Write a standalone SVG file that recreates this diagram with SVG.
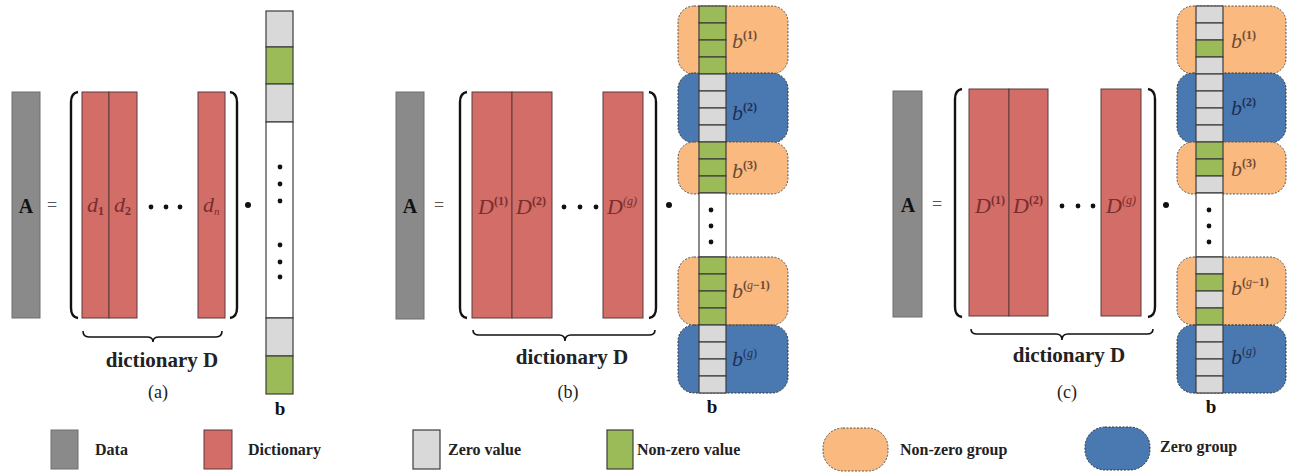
<svg xmlns="http://www.w3.org/2000/svg" width="1291" height="474" viewBox="0 0 1291 474">
<style>
.bg{fill:#ffffff}
.data{fill:#8a8a8a;stroke:#6e6e6e;stroke-width:1}
.dict{fill:#d26d68;stroke:#5a3a3a;stroke-width:1}
.zero{fill:#d9d9d9;stroke:#3c3c3c;stroke-width:1.2}
.nz{fill:#9bbb59;stroke:#3c3c3c;stroke-width:1.2}
.wh{fill:#ffffff;stroke:#3c3c3c;stroke-width:1.2}
.og{fill:#f9b97f;stroke:#555;stroke-width:1;stroke-dasharray:2 1.5}
.bg2{fill:#4a79b2;stroke:#333;stroke-width:1;stroke-dasharray:2 1.5}
.brk{fill:none;stroke:#111;stroke-width:2.4}
.brace{fill:none;stroke:#111;stroke-width:1.6}
.dot{fill:#111}
.t{font-family:"Liberation Serif","Times New Roman",serif;fill:#111}
.bold{font-weight:bold}
.A{font-family:"Liberation Serif",serif;font-weight:bold;font-size:20px;fill:#111}
.eq{font-family:"Liberation Serif",serif;font-size:18px;fill:#555}
.dl{font-family:"Liberation Serif",serif;font-style:italic;font-size:22px;fill:#7a2e2e}
.sup{font-style:normal;font-weight:bold;font-size:12px}
.bl{font-family:"Liberation Serif",serif;font-style:italic;font-size:22px}
.blo{fill:#6e4a35}
.blb{fill:#1e2f55}
.dic{font-family:"Liberation Serif",serif;font-weight:bold;font-size:21px;fill:#222}
.cap{font-family:"Liberation Serif",serif;font-size:18px;fill:#222}
.lg{font-family:"Liberation Serif",serif;font-weight:bold;font-size:16px;fill:#222}
</style>
<rect class="bg" x="0" y="0" width="1291" height="474"/>

<!-- ============ Panel (a) ============ -->
<g id="panel-a">
  <g id="a-data"><rect class="data" x="12" y="92" width="28" height="226"/><text class="A" x="26" y="213" text-anchor="middle">A</text></g>
  <text class="eq" x="52" y="211" text-anchor="middle">=</text>
  <g id="a-dict">
    <path class="brk" d="M78,92 Q71,93 71,102 L71,308 Q71,317 78,318"/>
    <rect class="dict" x="82" y="92" width="27" height="226"/>
    <rect class="dict" x="109" y="92" width="28" height="226"/>
    <rect class="dict" x="198" y="92" width="27" height="226"/>
    <text class="dl" x="87" y="212">d<tspan class="sup" dy="3" font-size="11">1</tspan></text>
    <text class="dl" x="114" y="212">d<tspan class="sup" dy="3" font-size="11">2</tspan></text>
    <text class="dl" x="203" y="212">d<tspan dy="3" font-size="11">n</tspan></text>
    <circle class="dot" cx="151" cy="207" r="2.4"/><circle class="dot" cx="166" cy="207" r="2.4"/><circle class="dot" cx="180" cy="207" r="2.4"/>
    <path class="brk" d="M230,92 Q237,93 237,102 L237,308 Q237,317 230,318"/>
    <path class="brace" d="M83,331 Q83,337 89,337 L147,337 Q153,337 153,342 Q153,337 159,337 L216,337 Q222,337 222,331"/>
    <text class="dic" x="162" y="367" text-anchor="middle">dictionary D</text>
    <text class="cap" x="158" y="398" text-anchor="middle">(a)</text>
  </g>
  <circle class="dot" cx="248" cy="205" r="3"/>
  <g id="a-b">
    <rect class="zero" x="266" y="11" width="27" height="36"/>
    <rect class="nz" x="266" y="47" width="27" height="37"/>
    <rect class="zero" x="266" y="84" width="27" height="38"/>
    <rect class="wh" x="266" y="122" width="27" height="196"/>
    <rect class="zero" x="266" y="318" width="27" height="38"/>
    <rect class="nz" x="266" y="356" width="27" height="38"/>
    <circle class="dot" cx="280" cy="167" r="2.4"/><circle class="dot" cx="280" cy="184" r="2.4"/><circle class="dot" cx="280" cy="201" r="2.4"/>
    <circle class="dot" cx="280" cy="245" r="2.4"/><circle class="dot" cx="280" cy="262" r="2.4"/><circle class="dot" cx="280" cy="277" r="2.4"/>
    <text class="t bold" x="280" y="415" font-size="19" text-anchor="middle">b</text>
  </g>
</g>

<!-- ============ Panel (b) ============ -->
<g id="panel-b">
  <g id="b-data"><rect class="data" x="396" y="92" width="28" height="227"/><text class="A" x="410" y="213" text-anchor="middle">A</text></g>
  <text class="eq" x="439" y="211" text-anchor="middle">=</text>
  <g id="b-dict">
    <path class="brk" d="M467,92 Q460,93 460,102 L460,308 Q460,317 467,318"/>
    <rect class="dict" x="472" y="92" width="40" height="226"/>
    <rect class="dict" x="512" y="92" width="40" height="226"/>
    <rect class="dict" x="603" y="92" width="40" height="226"/>
    <text class="dl" x="478" y="214">D<tspan class="sup" dy="-9">(1)</tspan></text>
    <text class="dl" x="516" y="214">D<tspan class="sup" dy="-9">(2)</tspan></text>
    <text class="dl" x="607" y="214">D<tspan dy="-9" font-size="12">(<tspan font-style="italic">g</tspan>)</tspan></text>
    <circle class="dot" cx="564" cy="207" r="2.4"/><circle class="dot" cx="580" cy="207" r="2.4"/><circle class="dot" cx="596" cy="207" r="2.4"/>
    <path class="brk" d="M649,92 Q656,93 656,102 L656,308 Q656,317 649,318"/>
    <path class="brace" d="M473,330 Q473,335 479,335 L559,335 Q565,335 565,341 Q565,335 571,335 L649,335 Q655,335 655,330"/>
    <text class="dic" x="572" y="364" text-anchor="middle">dictionary D</text>
    <text class="cap" x="568" y="398" text-anchor="middle">(b)</text>
  </g>
  <circle class="dot" cx="669" cy="205" r="3"/>
  <g id="b-groups">
    <rect class="og" x="678" y="6" width="110" height="68" rx="16"/>
    <rect class="bg2" x="678" y="73" width="110" height="70" rx="16"/>
    <rect class="og" x="678" y="142" width="110" height="52" rx="16"/>
    <rect class="og" x="678" y="257" width="110" height="68" rx="16"/>
    <rect class="bg2" x="678" y="325" width="110" height="68" rx="16"/>
  </g>
  <g id="b-vector">
    <rect class="nz" x="699" y="6" width="27" height="17"/><rect class="nz" x="699" y="23" width="27" height="17"/><rect class="nz" x="699" y="40" width="27" height="17"/><rect class="nz" x="699" y="57" width="27" height="17"/>
    <rect class="zero" x="699" y="74" width="27" height="17"/><rect class="zero" x="699" y="91" width="27" height="17"/><rect class="zero" x="699" y="108" width="27" height="17"/><rect class="zero" x="699" y="125" width="27" height="17"/>
    <rect class="nz" x="699" y="142" width="27" height="17"/><rect class="nz" x="699" y="159" width="27" height="17"/><rect class="nz" x="699" y="176" width="27" height="17"/>
    <rect class="wh" x="699" y="193" width="27" height="64"/>
    <rect class="nz" x="699" y="257" width="27" height="17"/><rect class="nz" x="699" y="274" width="27" height="17"/><rect class="nz" x="699" y="291" width="27" height="17"/><rect class="nz" x="699" y="308" width="27" height="17"/>
    <rect class="zero" x="699" y="325" width="27" height="17"/><rect class="zero" x="699" y="342" width="27" height="17"/><rect class="zero" x="699" y="359" width="27" height="17"/><rect class="zero" x="699" y="376" width="27" height="17"/>
    <circle class="dot" cx="711" cy="210" r="2.4"/><circle class="dot" cx="711" cy="226" r="2.4"/><circle class="dot" cx="711" cy="242" r="2.4"/>
    <text class="t bold" x="712" y="413" font-size="19" text-anchor="middle">b</text>
  </g>
  <g id="b-labels">
    <text class="bl blo" x="732" y="48">b<tspan class="sup" dy="-9">(1)</tspan></text>
    <text class="bl blb" x="732" y="120">b<tspan class="sup" dy="-9">(2)</tspan></text>
    <text class="bl blo" x="732" y="178">b<tspan class="sup" dy="-9">(3)</tspan></text>
    <text class="bl blo" x="732" y="298">b<tspan dy="-9" font-size="12" font-weight="bold" font-style="normal">(<tspan font-style="italic" font-weight="normal">g</tspan>−1)</tspan></text>
    <text class="bl blb" x="732" y="366">b<tspan dy="-9" font-size="12" font-style="normal">(<tspan font-style="italic">g</tspan>)</tspan></text>
  </g>
</g>

<!-- ============ Panel (c) ============ -->
<g id="panel-c">
  <g id="c-data"><rect class="data" x="893" y="91" width="29" height="226"/><text class="A" x="908" y="212" text-anchor="middle">A</text></g>
  <text class="eq" x="937" y="210" text-anchor="middle">=</text>
  <g id="c-dict">
    <path class="brk" d="M962,89 Q955,90 955,99 L955,307 Q955,316 962,317"/>
    <rect class="dict" x="969" y="89" width="40" height="227"/>
    <rect class="dict" x="1009" y="89" width="39" height="227"/>
    <rect class="dict" x="1101" y="89" width="40" height="227"/>
    <text class="dl" x="975" y="213">D<tspan class="sup" dy="-9">(1)</tspan></text>
    <text class="dl" x="1013" y="213">D<tspan class="sup" dy="-9">(2)</tspan></text>
    <text class="dl" x="1106" y="213">D<tspan dy="-9" font-size="12">(<tspan font-style="italic">g</tspan>)</tspan></text>
    <circle class="dot" cx="1062" cy="206" r="2.4"/><circle class="dot" cx="1078" cy="206" r="2.4"/><circle class="dot" cx="1093" cy="206" r="2.4"/>
    <path class="brk" d="M1148,89 Q1155,90 1155,99 L1155,307 Q1155,316 1148,317"/>
    <path class="brace" d="M971,329 Q971,334 977,334 L1056,334 Q1062,334 1062,340 Q1062,334 1068,334 L1147,334 Q1153,334 1153,329"/>
    <text class="dic" x="1069" y="362" text-anchor="middle">dictionary D</text>
    <text class="cap" x="1067" y="398" text-anchor="middle">(c)</text>
  </g>
  <circle class="dot" cx="1166" cy="205" r="3"/>
  <g id="c-groups">
    <rect class="og" x="1177" y="6" width="109" height="68" rx="16"/>
    <rect class="bg2" x="1177" y="73" width="109" height="70" rx="16"/>
    <rect class="og" x="1177" y="142" width="109" height="52" rx="16"/>
    <rect class="og" x="1177" y="257" width="109" height="68" rx="16"/>
    <rect class="bg2" x="1177" y="325" width="109" height="68" rx="16"/>
  </g>
  <g id="c-vector">
    <rect class="zero" x="1196" y="6" width="27" height="17"/><rect class="zero" x="1196" y="23" width="27" height="17"/><rect class="nz" x="1196" y="40" width="27" height="17"/><rect class="zero" x="1196" y="57" width="27" height="17"/>
    <rect class="zero" x="1196" y="74" width="27" height="17"/><rect class="zero" x="1196" y="91" width="27" height="17"/><rect class="zero" x="1196" y="108" width="27" height="17"/><rect class="zero" x="1196" y="125" width="27" height="17"/>
    <rect class="nz" x="1196" y="142" width="27" height="17"/><rect class="nz" x="1196" y="159" width="27" height="17"/><rect class="zero" x="1196" y="176" width="27" height="17"/>
    <rect class="wh" x="1196" y="193" width="27" height="64"/>
    <rect class="zero" x="1196" y="257" width="27" height="17"/><rect class="nz" x="1196" y="274" width="27" height="17"/><rect class="zero" x="1196" y="291" width="27" height="17"/><rect class="nz" x="1196" y="308" width="27" height="17"/>
    <rect class="zero" x="1196" y="325" width="27" height="17"/><rect class="zero" x="1196" y="342" width="27" height="17"/><rect class="zero" x="1196" y="359" width="27" height="17"/><rect class="zero" x="1196" y="376" width="27" height="17"/>
    <circle class="dot" cx="1209" cy="210" r="2.4"/><circle class="dot" cx="1209" cy="226" r="2.4"/><circle class="dot" cx="1209" cy="242" r="2.4"/>
    <text class="t bold" x="1211" y="413" font-size="19" text-anchor="middle">b</text>
  </g>
  <g id="c-labels">
    <text class="bl blo" x="1231" y="48">b<tspan class="sup" dy="-9">(1)</tspan></text>
    <text class="bl blb" x="1231" y="115">b<tspan class="sup" dy="-9">(2)</tspan></text>
    <text class="bl blo" x="1231" y="176">b<tspan class="sup" dy="-9">(3)</tspan></text>
    <text class="bl blo" x="1231" y="295">b<tspan dy="-9" font-size="12" font-weight="bold" font-style="normal">(<tspan font-style="italic" font-weight="normal">g</tspan>−1)</tspan></text>
    <text class="bl blb" x="1231" y="364">b<tspan dy="-9" font-size="12" font-style="normal">(<tspan font-style="italic">g</tspan>)</tspan></text>
  </g>
</g>

<!-- ============ Legend ============ -->
<g id="legend">
  <g id="lg-data"><rect class="data" x="51" y="430" width="27" height="39" stroke="none"/><text class="lg" x="95" y="455">Data</text></g>
  <g id="lg-dict"><rect class="dict" x="204" y="430" width="28" height="39" stroke="none"/><text class="lg" x="248" y="455">Dictionary</text></g>
  <g id="lg-zero"><rect class="zero" x="413" y="430" width="27" height="39" stroke="none"/><text class="lg" x="448" y="455">Zero value</text></g>
  <g id="lg-nz"><rect class="nz" x="607" y="430" width="26" height="39" stroke="none"/><text class="lg" x="637" y="455">Non-zero value</text></g>
  <g id="lg-og"><rect class="og" x="823" y="428" width="65" height="43" rx="20"/><text class="lg" x="900" y="455">Non-zero group</text></g>
  <g id="lg-zg"><rect class="bg2" x="1085" y="427" width="65" height="43" rx="20"/><text class="lg" x="1160" y="452">Zero group</text></g>
</g>
</svg>
